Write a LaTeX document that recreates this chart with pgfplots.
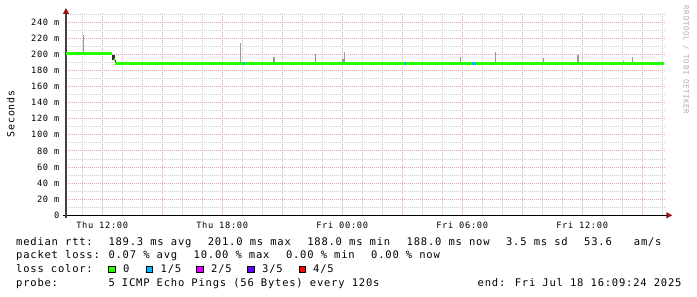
\documentclass[border=0pt]{standalone}
\usepackage{fontspec}
\usepackage{pgfplots}
\pgfplotsset{compat=1.18}
\usetikzlibrary{arrows.meta}
\setmainfont{DejaVu Sans Mono}[LetterSpace=7.5]
\definecolor{lc0}{HTML}{26FF00}
\definecolor{lc1}{HTML}{00B8FF}
\definecolor{lc2}{HTML}{DD00FF}
\definecolor{lc3}{HTML}{5E00FF}
\definecolor{lc4}{HTML}{FF0000}
\definecolor{mgrid}{HTML}{EBA3A3}
\definecolor{mingrid}{HTML}{CACACA}
\definecolor{arrowred}{HTML}{A01010}
\definecolor{smoke}{HTML}{9A9A9A}
\definecolor{darksmoke}{HTML}{303030}
\newcommand{\lgd}{\fontsize{10.5}{12}\selectfont}
\newcommand{\col}[3]{\node[anchor=base west, inner sep=0pt, font=\lgd] at ({16pt+7.1pt*#1}, #2) {#3};}
\begin{document}
\begin{tikzpicture}
\path[use as bounding box] (0pt,0pt) rectangle (697pt,297pt);
\begin{axis}[
  scale only axis, width=599.3pt, height=202.3pt,
  at={(66pt,81.7pt)}, anchor=south west,
  xmin=10.19, xmax=40.157, ymin=0, ymax=251.3,
  axis lines=left,
  x axis line style={draw=black, line width=0.9pt, shorten <=-3pt, shorten >=-7pt, -{Triangle[length=6pt,width=6pt,color=arrowred]}},
  y axis line style={draw=black!75, line width=1.2pt, shorten <=-3pt, shorten >=-5pt, -{Triangle[length=6pt,width=6pt,color=arrowred]}},
  xtick={12,15,18,21,24,27,30,33,36,39},
  xticklabels={Thu 12:00,,Thu 18:00,,Fri 00:00,,Fri 06:00,,Fri 12:00,},
  minor xtick={11,13,14,16,17,19,20,22,23,25,26,28,29,31,32,34,35,37,38,40},
  ytick={0,20,...,240},
  yticklabels={0,20 m,40 m,60 m,80 m,100 m,120 m,140 m,160 m,180 m,200 m,220 m,240 m},
  minor ytick={10,30,...,250},
  grid=both,
  major grid style={draw=mgrid, line width=0.8pt, dash pattern=on 1pt off 1pt},
  minor grid style={draw=mingrid, line width=0.8pt, dash pattern=on 1pt off 1pt},
  major tick length=0pt, minor tick length=0pt,
  tick label style={font=\fontsize{8.7}{10}\selectfont},
  xticklabel style={anchor=base, inner sep=0pt, yshift=-13pt},
  yticklabel style={anchor=east, inner sep=0pt, xshift=-6.5pt},
]
% smoke (thin)
\addplot[smoke, line width=1pt, unbounded coords=jump] coordinates {
(11.07,202)(11.07,224.4)(11.07,nan)
(13.07,189)(13.07,190.8)(13.07,nan)
(14.49,189)(14.49,190.5)(14.49,nan)
(16.57,189)(16.57,190.5)(16.57,nan)
(18.92,189)(18.92,214.4)(18.92,nan)
(22.67,189)(22.67,200.4)(22.67,nan)
(24.12,189)(24.12,203)(24.12,nan)
(29.91,189)(29.91,196.3)(29.91,nan)
(31.67,189)(31.67,203)(31.67,nan)
(34.07,189)(34.07,195.4)(34.07,nan)
(38.07,189)(38.07,192)(38.07,nan)
(38.52,189)(38.52,197)
};
% smoke (wider)
\addplot[smoke, line width=2.3pt, unbounded coords=jump] coordinates {
(20.58,189)(20.58,197)(20.58,nan)
(24.06,189)(24.06,194)(24.06,nan)
(35.78,189)(35.78,199)
};
% dark smoke at the step
\addplot[darksmoke, line width=2.3pt] coordinates {(12.565,192.6)(12.565,199.5)};
\addplot[darksmoke, line width=0.8pt] coordinates {(12.64,188.8)(12.64,193.5)};
% median, 0 loss
\addplot[lc0, line width=2.8pt, unbounded coords=jump] coordinates {
(10.19,201.2)(12.51,201.2)(12.51,nan)
(12.585,193.5)(12.625,193.5)(12.625,nan)
(12.64,188.8)(40.1,188.8)
};
\addplot[lc0, line width=2pt, unbounded coords=jump] coordinates {
(25.6,189.7)(26.9,189.7)(26.9,nan)
(27.2,189.7)(28.9,189.7)(28.9,nan)
(29.3,189.7)(30.4,189.7)(30.4,nan)
(30.8,189.7)(32.9,189.7)
};
% median, 1/5 loss
\addplot[lc1, line width=2.8pt, unbounded coords=jump] coordinates {
(19.06,188.8)(19.13,188.8)(19.13,nan)
(27.09,188.8)(27.18,188.8)(27.18,nan)
(30.5,188.8)(30.67,188.8)
};
\end{axis}
% axis title and watermark
\node[rotate=90, inner sep=0pt, font=\fontsize{9.9}{11}\selectfont] at (10.7pt,183pt) {Seconds};
\node[rotate=-90, inner sep=0pt, text=black!32, font=\fontsize{7.4}{9}\selectfont] at (686pt,237pt) {RRDTOOL / TOBI OETIKER};
% legend lines
\col{0}{51.7pt}{median rtt:}
\col{13}{51.7pt}{189.3 ms avg}
\col{27}{51.7pt}{201.0 ms max}
\col{41}{51.7pt}{188.0 ms min}
\col{55}{51.7pt}{188.0 ms now}
\col{69}{51.7pt}{3.5 ms sd}
\col{80}{51.7pt}{53.6}
\col{87}{51.7pt}{am/s}
\col{0}{38pt}{packet loss:}
\col{13}{38pt}{0.07 \% avg}
\col{25}{38pt}{10.00 \% max}
\col{38}{38pt}{0.00 \% min}
\col{50}{38pt}{0.00 \% now}
\col{0}{24pt}{loss color:}
\filldraw[fill=lc0, draw=black, line width=0.8pt] (108.7pt,24.7pt) rectangle (115.3pt,31pt);
\filldraw[fill=lc1, draw=black, line width=0.8pt] (146.1pt,24.7pt) rectangle (152.7pt,31pt);
\filldraw[fill=lc2, draw=black, line width=0.8pt] (196.4pt,24.7pt) rectangle (203pt,31pt);
\filldraw[fill=lc3, draw=black, line width=0.8pt] (247.4pt,24.7pt) rectangle (254pt,31pt);
\filldraw[fill=lc4, draw=black, line width=0.8pt] (298.9pt,24.7pt) rectangle (305.5pt,31pt);
\node[anchor=base west, inner sep=0pt, font=\lgd] at (123pt,24pt) {0};
\node[anchor=base west, inner sep=0pt, font=\lgd] at (160.5pt,24pt) {1/5};
\node[anchor=base west, inner sep=0pt, font=\lgd] at (211pt,24pt) {2/5};
\node[anchor=base west, inner sep=0pt, font=\lgd] at (262pt,24pt) {3/5};
\node[anchor=base west, inner sep=0pt, font=\lgd] at (313pt,24pt) {4/5};
\col{0}{10pt}{probe:}
\col{13}{10pt}{5 ICMP Echo Pings (56 Bytes) every 120s}
\node[anchor=base west, inner sep=0pt, font=\lgd] at (477.5pt,10pt) {end: Fri Jul 18 16:09:24 2025};
\end{tikzpicture}
\end{document}
